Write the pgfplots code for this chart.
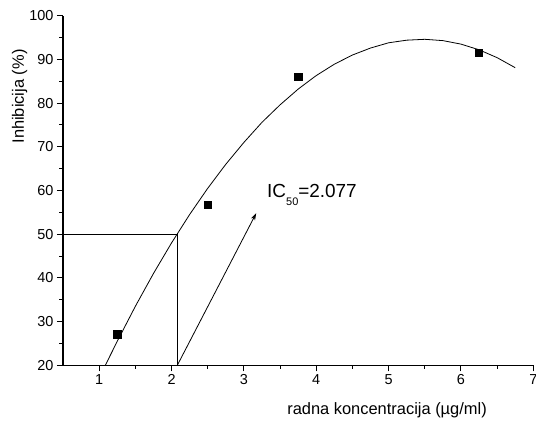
\documentclass[border=0pt]{standalone}
\usepackage{fontspec}
\setmainfont{Liberation Sans}
\usepackage{pgfplots}
\pgfplotsset{compat=1.18}
\usetikzlibrary{arrows.meta}

\begin{document}
\begin{tikzpicture}
\begin{axis}[
    scale only axis,
    width=470.3bp,
    height=349.6bp,
    xmin=0.5, xmax=7,
    ymin=20, ymax=100,
    axis x line*=bottom,
    axis y line*=left,
    axis line style={line width=1.3bp, -},
    xtick={1,2,...,7},
    ytick={20,30,...,100},
    minor x tick num=1,
    minor y tick num=1,
    tick align=outside,
    major tick length=6bp,
    minor tick length=3.5bp,
    tick style={line width=1bp, black},
    tick label style={font=\fontsize{14.5}{16}\selectfont},
    /pgf/number format/assume math mode=true,
    xlabel={radna koncentracija (µg/ml)},
    ylabel={Inhibicija (\%)},
    label style={font=\fontsize{16.5}{19}\selectfont},
    xlabel style={at={(axis description cs:0.689,-0.107)}, anchor=north, inner sep=0pt},
    ylabel style={at={(axis description cs:-0.083,0.769)}, anchor=base, inner sep=0pt},
    clip=false,
]
\coordinate (O) at (rel axis cs:0,0);

% measured points
\addplot[only marks, mark=square*, mark size=3.6bp, black] coordinates {
    (1.25,27.1) (2.5,56.8) (3.75,86.0) (6.25,91.6)
};

% fitted curve
\addplot[black, line width=0.8bp] coordinates {
    (1.085,20.0) (1.25,25.5) (1.5,33.5) (1.75,41.0) (2.0,48.0) (2.077,50.0)
    (2.25,54.5) (2.5,60.5) (2.75,66.0) (3.0,71.0) (3.25,75.6) (3.5,79.6)
    (3.75,83.2) (4.0,86.3) (4.25,88.9) (4.5,91.0) (4.75,92.6) (5.0,93.8)
    (5.25,94.4) (5.5,94.6) (5.75,94.3) (6.0,93.5) (6.25,92.2) (6.5,90.4)
    (6.75,88.1)
};

% IC50 guide lines
\addplot[black, line width=0.8bp] coordinates {(0.5,50) (2.08,50) (2.08,20)};
\addplot[black, line width=0.8bp, -{Stealth[length=7bp,width=4.5bp]}] coordinates {(2.08,20) (3.17,54.8)};

\node[anchor=base west, inner sep=0pt, font=\fontsize{19}{22}\selectfont]
    at (axis cs:3.32,58.45) {IC\raisebox{-8bp}{\fontsize{11}{12}\selectfont 50}=2.077};
\end{axis}
\pgfresetboundingbox
\path[use as bounding box] (O) ++(-63bp,-55.7bp) rectangle ++(536bp,421bp);
\end{tikzpicture}
\end{document}
